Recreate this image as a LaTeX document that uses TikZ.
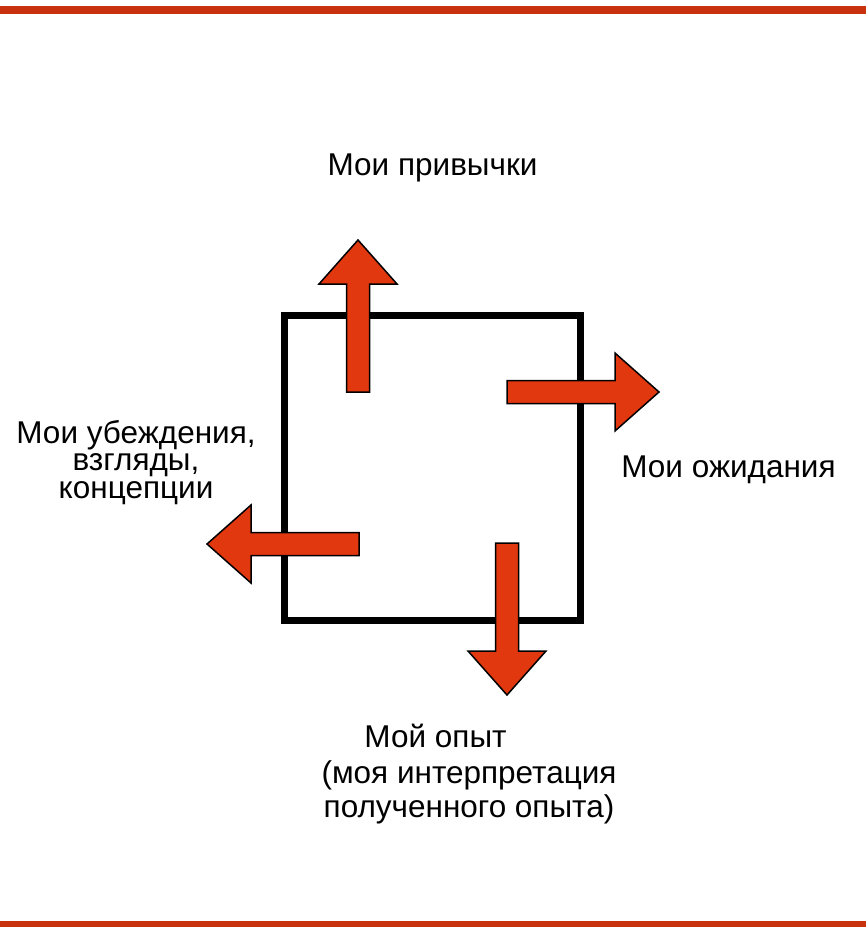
\documentclass[tikz,border=0pt]{standalone}
\usepackage{fontspec}
\setmainfont{Liberation Sans}
\definecolor{barred}{HTML}{C8320E}
\definecolor{arrowred}{HTML}{E2380F}
\begin{document}
\begin{tikzpicture}
  [x=1pt,y=-1pt,
   every node/.style={inner sep=0pt,font=\fontsize{31.5}{27.5}\selectfont},
   fatarrow/.style={fill=arrowred,draw=black,line width=1.5pt,line join=miter}]
  \useasboundingbox (0,0) rectangle (866,927);
  \fill[barred] (0,6) rectangle (866,14);
  \fill[barred] (0,921) rectangle (866,927);

  \draw[line width=7pt] (284.5,315.5) rectangle (580.5,620);

  \foreach \x/\y/\ang in {358/392/90,507/392/0,359/544/180,507/543/-90}
    \draw[fatarrow,shift={(\x,\y)},rotate=\ang]
      (0,-11.5) -- (108,-11.5) -- (108,-39) -- (152,0)
      -- (108,39) -- (108,11.5) -- (0,11.5) -- cycle;

  \node[anchor=base] (habits) at (432.5,175) {Мои привычки};
  \node[anchor=base] (expect) at (728.5,477) {Мои ожидания};
  \node[anchor=base,align=center] (beliefs) at (136,498)
    {Мои убеждения,\\взгляды,\\концепции};
  \node[anchor=base] (exper) at (435.5,747) {Мой опыт};
  \node[anchor=base,align=center,font=\fontsize{31.5}{34}\selectfont] (interp) at (469,817)
    {(моя интерпретация\\полученного опыта)};
\end{tikzpicture}
\end{document}
